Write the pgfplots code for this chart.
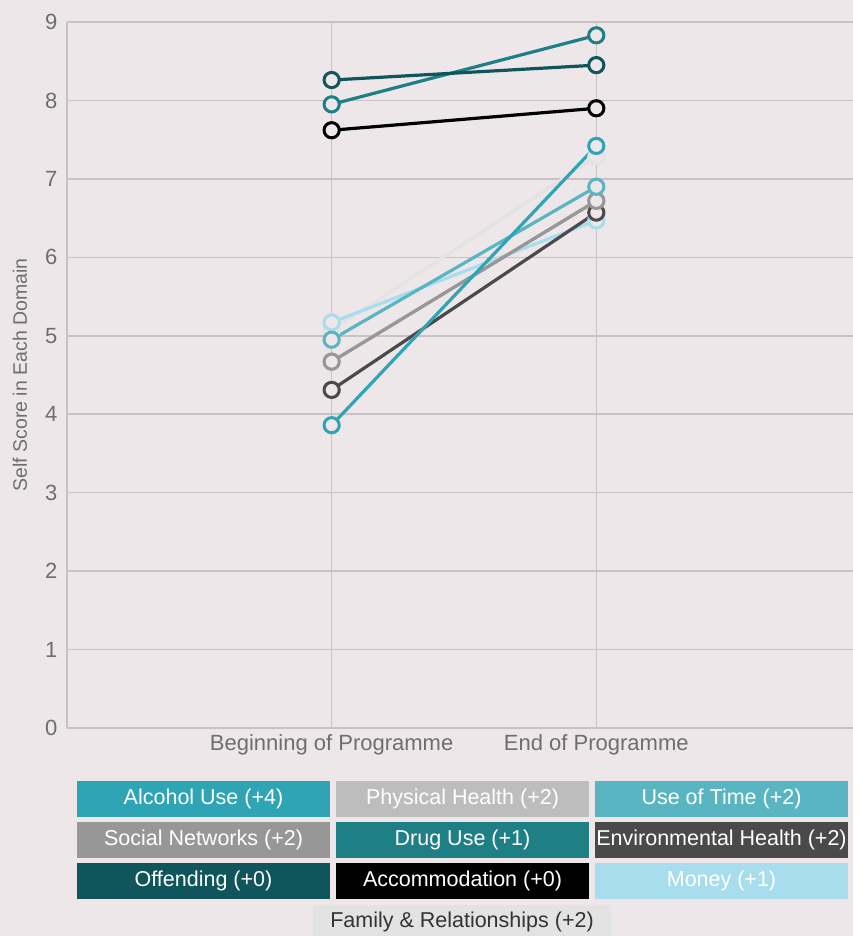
\documentclass[border=0pt]{standalone}
\usepackage{pgfplots}
\pgfplotsset{compat=1.18}
\usepackage{fontspec}
\setmainfont{Liberation Sans}

\definecolor{bg}{HTML}{EDE7EA}
\definecolor{gridc}{HTML}{C6C2C6}
\definecolor{tickc}{HTML}{6E6E6E}
\definecolor{alcohol}{HTML}{2FA4B5}
\definecolor{physical}{HTML}{BDBDBD}
\definecolor{usetime}{HTML}{5AB5C3}
\definecolor{social}{HTML}{979797}
\definecolor{drug}{HTML}{1E7F85}
\definecolor{envhealth}{HTML}{4A4A4A}
\definecolor{offending}{HTML}{10555B}
\definecolor{accomm}{HTML}{000000}
\definecolor{money}{HTML}{A8DDEE}
\definecolor{family}{HTML}{E3E3E3}

\pgfplotsset{
  domain/.style={line width=3.2pt, color=#1,
    mark=*, mark size=7.6pt,
    mark options={fill=bg, draw=#1, line width=3pt}},
}

\begin{document}
\begin{tikzpicture}[x=1pt,y=1pt]
\fill[bg] (0,0) rectangle (853,936);
\begin{axis}[
  at={(67pt,208pt)}, anchor=south west,
  scale only axis, width=786pt, height=706pt,
  xmin=0, xmax=2.97, ymin=0, ymax=9,
  xtick={1,2},
  xticklabels={Beginning of Programme, End of Programme},
  ytick={0,1,...,9},
  axis x line=bottom, axis y line=left,
  axis line style={draw=gridc, line width=1.5pt, -},
  grid=major,
  major grid style={draw=gridc, line width=1.5pt},
  tick style={draw=none},
  clip=false,
  /pgf/number format/assume math mode=true,
  yticklabel style={font=\fontsize{22}{22}\selectfont, text=tickc, xshift=-4pt},
  xticklabel style={font=\fontsize{22}{22}\selectfont, text=tickc, yshift=-1pt},
  ylabel={Self Score in Each Domain},
  ylabel style={at={(axis description cs:0,0.5)}, anchor=center, yshift=47pt,
    font=\fontsize{19.5}{19.5}\selectfont, text=tickc},
]
% Family & Relationships
\addplot[domain=family] coordinates {(1,5.07) (2,7.28)};
% Money
\addplot[domain=money] coordinates {(1,5.17) (2,6.47)};
% Physical Health
\addplot[domain=physical] coordinates {(1,4.67) (2,6.72)};
% Environmental Health
\addplot[domain=envhealth] coordinates {(1,4.31) (2,6.57)};
% Social Networks
\addplot[domain=social] coordinates {(1,4.67) (2,6.72)};
% Use of Time
\addplot[domain=usetime] coordinates {(1,4.95) (2,6.90)};
% Alcohol Use
\addplot[domain=alcohol] coordinates {(1,3.86) (2,7.42)};
% Accommodation
\addplot[domain=accomm] coordinates {(1,7.62) (2,7.90)};
% Drug Use
\addplot[domain=drug] coordinates {(1,7.95) (2,8.83)};
% Offending
\addplot[domain=offending] coordinates {(1,8.26) (2,8.45)};
\end{axis}

% Colour key
\tikzset{key/.style={minimum width=253pt, minimum height=36pt, inner sep=0pt,
  text=white, font=\fontsize{21.5}{21.5}\selectfont}}
\node[key, fill=alcohol]   at (203.5,137) {Alcohol Use (+4)};
\node[key, fill=physical]  at (462.5,137) {Physical Health (+2)};
\node[key, fill=usetime]   at (721.5,137) {Use of Time (+2)};
\node[key, fill=social]    at (203.5,96)  {Social Networks (+2)};
\node[key, fill=drug]      at (462.5,96)  {Drug Use (+1)};
\node[key, fill=envhealth] at (721.5,96)  {Environmental Health (+2)};
\node[key, fill=offending] at (203.5,55)  {Offending (+0)};
\node[key, fill=accomm]    at (462.5,55)  {Accommodation (+0)};
\node[key, fill=money]     at (721.5,55)  {Money (+1)};
\node[key, fill=family, text=black!80, minimum width=298pt, minimum height=33pt]
  at (462,14) {Family \& Relationships (+2)};

\pgfresetboundingbox
\useasboundingbox (0,0) rectangle (853,936);
\end{tikzpicture}
\end{document}
